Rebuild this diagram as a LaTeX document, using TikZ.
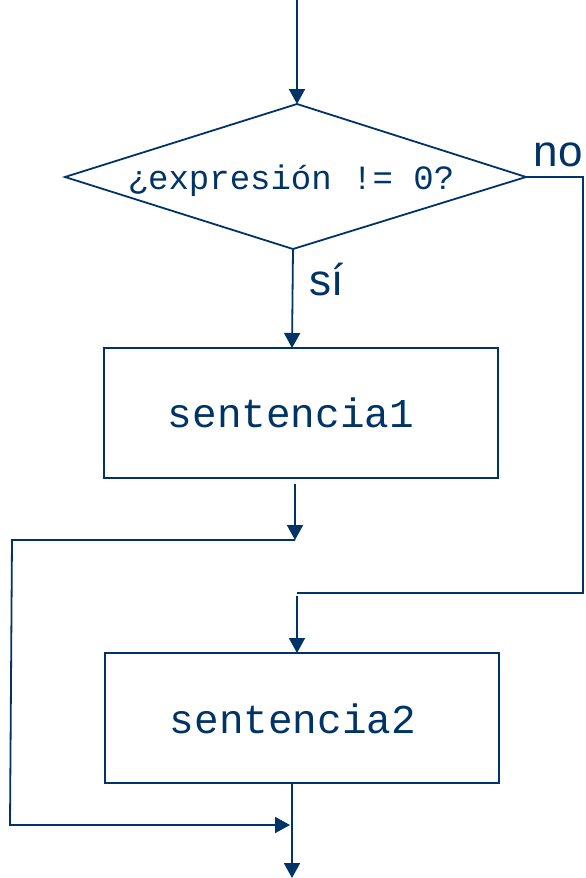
\documentclass[tikz,border=0pt]{standalone}
\usepackage{fontspec}
\setmainfont{Liberation Sans}
\newfontfamily\codefont{Liberation Mono}
\usetikzlibrary{arrows.meta}
\definecolor{navy}{RGB}{0,51,102}
\begin{document}
\begin{tikzpicture}[x=1pt,y=-1pt,
  line width=1.8pt, draw=navy,
  flow/.style={draw=navy, line width=1.8pt},
  arr/.style={flow, -{Triangle[width=16pt,length=15pt]}},
  box/.style={draw=navy, line width=1.8pt},
  code/.style={text=navy, font=\codefont\fontsize{41}{43}\selectfont, inner sep=0pt},
  lbl/.style={text=navy, font=\fontsize{44}{46}\selectfont, inner sep=0pt}]
\useasboundingbox (0,0) rectangle (586,878);

% decision
\coordinate (dtop) at (297,104);
\coordinate (dleft) at (65,177);
\coordinate (dright) at (526,177);
\coordinate (dbot) at (293,249);
\draw[flow, line join=miter] (dtop) -- (dright) -- (dbot) -- (dleft) -- cycle;
\node[code, font=\codefont\fontsize{34}{36}\selectfont] (cond) at (291,181) {¿expresión != 0?};
\node[lbl, anchor=base] (no) at (558,166) {no};
\node[lbl, anchor=base] (si) at (327,295) {sí};

% statements
\draw[box] (104,348) rectangle (498,478);
\node[code] (s1) at (291,413) {sentencia1};
\draw[box] (105,653) rectangle (499,783);
\node[code] (s2) at (293,719) {sentencia2};

% connectors
\coordinate (start) at (297,0);
\draw[arr] (start) -- (dtop);

\coordinate (s1in) at (292,348);
\draw[arr] (dbot) -- (s1in);

\coordinate (s1out) at (295,484);
\coordinate (j1) at (295,540);
\draw[arr] (s1out) -- (j1);
\coordinate (l1) at (12,540);
\coordinate (l2) at (10,825);
\coordinate (j3) at (290,825);
\draw[arr, line join=miter] (j1) -- (l1) -- (l2) -- (j3);

\coordinate (r1) at (583,177);
\coordinate (r2) at (583,593);
\coordinate (j2) at (297,593);
\draw[flow, line join=miter] (dright) -- (r1) -- (r2) -- (j2);
\coordinate (j2b) at (297,596);
\coordinate (s2in) at (297,653);
\draw[arr] (j2b) -- (s2in);

\coordinate (s2out) at (292,783);
\coordinate (stop) at (292,878);
\draw[arr] (s2out) -- (stop);
\end{tikzpicture}
\end{document}
